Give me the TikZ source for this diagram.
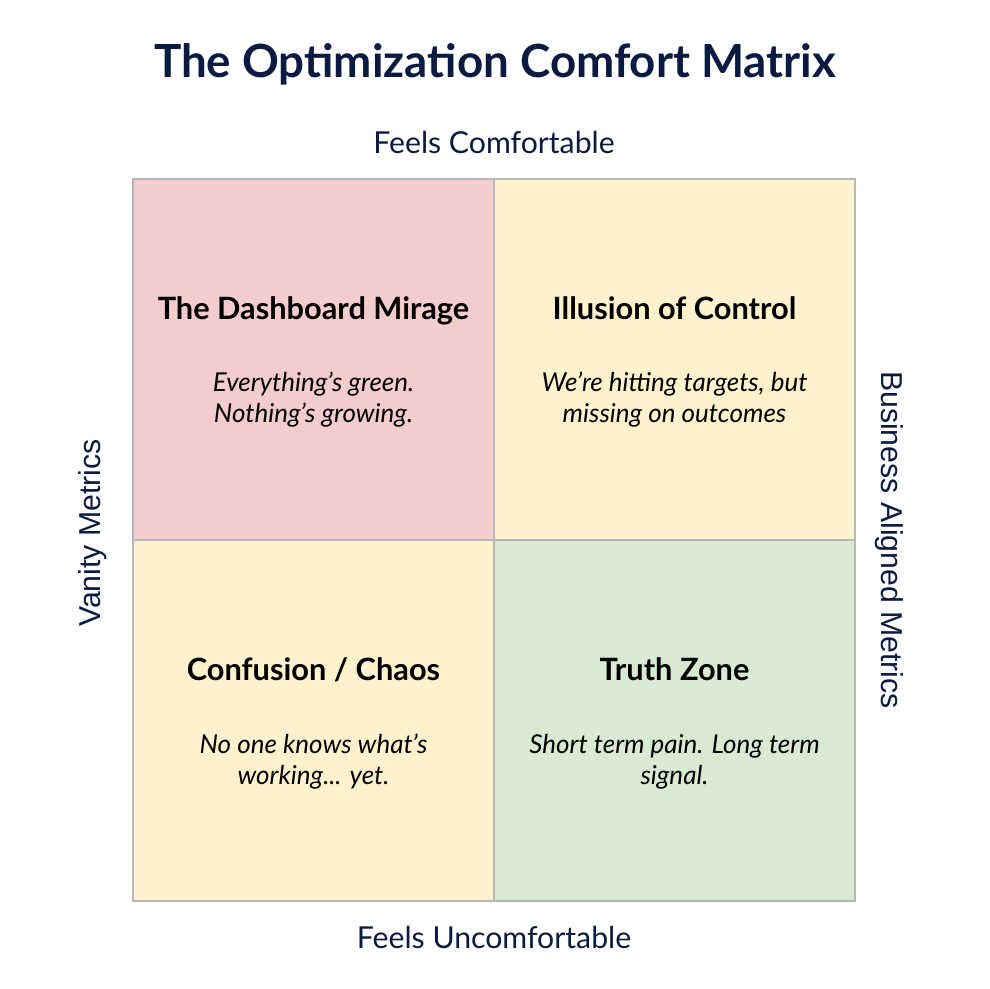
\documentclass[tikz,border=0pt]{standalone}
\usepackage{fontspec}
\setmainfont{Lato}
\newfontfamily\sidefont{Liberation Sans}
\usetikzlibrary{positioning}
\definecolor{navy}{HTML}{0B1A40}
\definecolor{rosa}{HTML}{F4CCCC}
\definecolor{gelb}{HTML}{FFF2CC}
\definecolor{gruen}{HTML}{D9EAD3}
\definecolor{rand}{HTML}{B7B7B7}
\tikzset{
  feld/.style={draw=rand,line width=0.8pt,minimum width=7.22cm,minimum height=7.22cm,inner sep=0pt},
  kopf/.style={font=\fontsize{17.5}{20}\selectfont\bfseries,text=black,anchor=base},
  spruch/.style={font=\fontsize{14.8}{17.3}\selectfont\itshape,text=black,align=center,anchor=base},
  achse/.style={font=\fontsize{17.2}{20}\selectfont,text=navy,anchor=base},
  seite/.style={font=\sidefont\fontsize{17.2}{20}\selectfont,text=navy},
}
\begin{document}
\begin{tikzpicture}[x=0.02cm,y=-0.02cm]
  \useasboundingbox[fill=white] (0,0) rectangle (990,988);
  % ===== Titel =====
  \node[font=\fontsize{26}{30}\selectfont\bfseries,text=navy,anchor=base] (titel) at (495,77) {The Optimization Comfort Matrix};
  % ===== Felder =====
  \node[feld,fill=rosa] (lo) at (313.5,359.5) {};
  \node[feld,fill=gelb] (ro) at (674.5,359.5) {};
  \node[feld,fill=gelb] (lu) at (313.5,720.5) {};
  \node[feld,fill=gruen] (ru) at (674.5,720.5) {};
  % ===== Texte in den Feldern =====
  \node[kopf] (klo) at (313.5,319) {The Dashboard Mirage};
  \node[spruch] (slo) at (313.5,422) {Everything’s green.\\Nothing’s growing.};
  \node[kopf] (kro) at (674.5,319) {Illusion of Control};
  \node[spruch] (sro) at (674.5,422) {We’re hitting targets, but\\missing on outcomes};
  \node[kopf] (klu) at (313.5,680) {Confusion / Chaos};
  \node[spruch] (slu) at (313.5,784) {No one knows what’s\\working... yet.};
  \node[kopf] (kru) at (674.5,680) {Truth Zone};
  \node[spruch] (sru) at (674.5,784) {Short term pain. Long term\\signal.};
  % ===== Achsen =====
  \node[achse] (oben) at (494,153) {Feels Comfortable};
  \node[achse] (unten) at (494,948) {Feels Uncomfortable};
  \node[seite,rotate=90] (links) at (93,533) {Vanity Metrics};
  \node[seite,rotate=-90] (rechts) at (889,540) {Business Aligned Metrics};
\end{tikzpicture}
\end{document}
